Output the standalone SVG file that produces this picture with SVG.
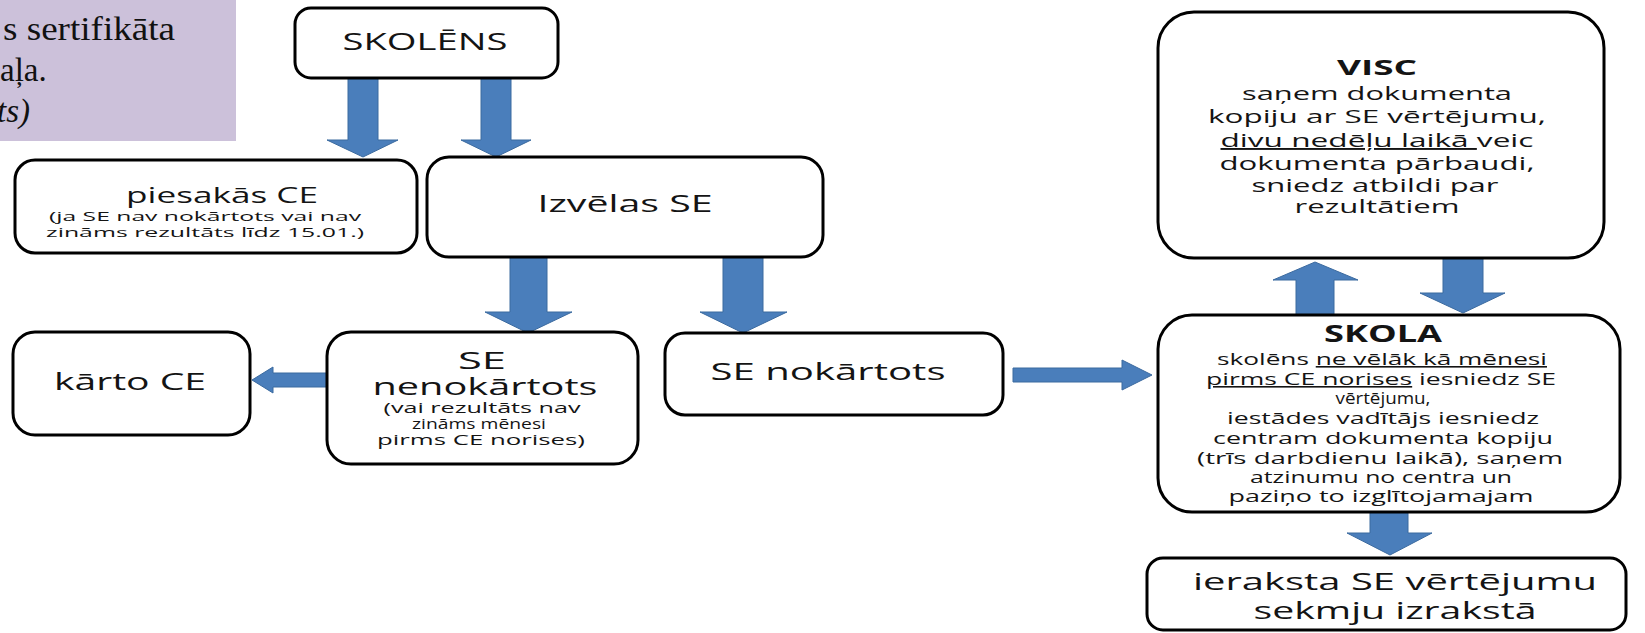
<svg xmlns="http://www.w3.org/2000/svg" width="1645" height="633" viewBox="0 0 1645 633">
<style>
.box{fill:#fff;stroke:#000;stroke-width:3}
.arr{fill:#4A7EBB;stroke:#3B6A9F;stroke-width:1}
.t{font-family:"Open Sans","DejaVu Sans",sans-serif;fill:#141414;text-anchor:middle}
.b{font-weight:bold}
.u{text-decoration:underline}
.serif{font-family:"Liberation Serif","Times New Roman",serif;fill:#111;font-size:33px}
</style>
<rect x="0" y="0" width="236" height="141" fill="#CCC1DA"/>
<text class="serif" x="3" y="40" textLength="172" lengthAdjust="spacingAndGlyphs">s sertifikāta</text>
<text class="serif" x="0" y="81">aļa.</text>
<text class="serif" x="-3" y="122" font-style="italic">ts)</text>

<g id="connectors">
<path class="arr" d="M348,78 H378 V140 H398 L363,157 L327,140 H348 Z"/>
<path class="arr" d="M481,78 H511 V140 H531 L496,157 L461,140 H481 Z"/>
<path class="arr" d="M510,257 H547 V312 H572 L528,333 L485,312 H510 Z"/>
<path class="arr" d="M723,257 H763 V312 H787 L743,333 L700,312 H723 Z"/>
<path class="arr" d="M327,373 H273 V367 L252,380 L273,393 V387 H327 Z"/>
<path class="arr" d="M1013,368 H1122 V360 L1152,375 L1122,390 V382 H1013 Z"/>
<path class="arr" d="M1296,315 V280 H1273 L1315,262 L1358,280 H1334 V315 Z"/>
<path class="arr" d="M1443,258 H1483 V293 H1505 L1463,313 L1420,293 H1443 Z"/>
<path class="arr" d="M1370,512 H1408 V533 H1432 L1390,555 L1347,533 H1370 Z"/>
</g>

<g id="skolens">
<rect class="box" x="295" y="8" width="263" height="70" rx="16"/>
<text class="t" x="425" y="50" font-size="24" textLength="165" lengthAdjust="spacingAndGlyphs">SKOLĒNS</text>
</g>

<g id="piesakas">
<rect class="box" x="15" y="160" width="402" height="93" rx="20"/>
<text class="t" x="222" y="203" font-size="22" textLength="192" lengthAdjust="spacingAndGlyphs">piesakās CE</text>
<text class="t" x="205" y="221" font-size="13.5" textLength="312" lengthAdjust="spacingAndGlyphs">(ja SE nav nokārtots vai nav</text>
<text class="t" x="205" y="237" font-size="13.5" textLength="318" lengthAdjust="spacingAndGlyphs">zināms rezultāts līdz 15.01.)</text>
</g>

<g id="izvelas">
<rect class="box" x="427" y="157" width="396" height="100" rx="22"/>
<text class="t" x="625" y="212" font-size="24" textLength="175" lengthAdjust="spacingAndGlyphs">Izvēlas SE</text>
</g>

<g id="karto">
<rect class="box" x="13" y="332" width="237" height="103" rx="22"/>
<text class="t" x="130" y="390" font-size="24" textLength="152" lengthAdjust="spacingAndGlyphs">kārto CE</text>
</g>

<g id="nenokartots">
<rect class="box" x="327" y="332" width="311" height="132" rx="24"/>
<text class="t" x="482" y="369" font-size="24" textLength="48" lengthAdjust="spacingAndGlyphs">SE</text>
<text class="t" x="485" y="395" font-size="24" textLength="225" lengthAdjust="spacingAndGlyphs">nenokārtots</text>
<text class="t" x="482" y="413" font-size="14" textLength="197" lengthAdjust="spacingAndGlyphs">(vai rezultāts nav</text>
<text class="t" x="479" y="429" font-size="14" textLength="134" lengthAdjust="spacingAndGlyphs">zināms mēnesi</text>
<text class="t" x="481" y="445" font-size="14" textLength="208" lengthAdjust="spacingAndGlyphs">pirms CE norises)</text>
</g>

<g id="nokartots">
<rect class="box" x="665" y="333" width="338" height="82" rx="20"/>
<text class="t" x="828" y="380" font-size="24" textLength="235" lengthAdjust="spacingAndGlyphs">SE nokārtots</text>
</g>

<g id="visc">
<rect class="box" x="1158" y="12" width="446" height="246" rx="36"/>
<text class="t b" x="1377" y="75" font-size="22" textLength="80" lengthAdjust="spacingAndGlyphs">VISC</text>
<text class="t" x="1377" y="100" font-size="19" textLength="270" lengthAdjust="spacingAndGlyphs">saņem dokumenta</text>
<text class="t" x="1377" y="123" font-size="19" textLength="338" lengthAdjust="spacingAndGlyphs">kopiju ar SE vērtējumu,</text>
<text class="t" x="1377" y="147" font-size="19" textLength="313" lengthAdjust="spacingAndGlyphs"><tspan class="u">divu nedēļu laikā </tspan>veic</text>
<text class="t" x="1377" y="170" font-size="19" textLength="315" lengthAdjust="spacingAndGlyphs">dokumenta pārbaudi,</text>
<text class="t" x="1375" y="192" font-size="19" textLength="247" lengthAdjust="spacingAndGlyphs">sniedz atbildi par</text>
<text class="t" x="1377" y="213" font-size="19" textLength="165" lengthAdjust="spacingAndGlyphs">rezultātiem</text>
</g>

<g id="skola">
<rect class="box" x="1158" y="315" width="462" height="197" rx="34"/>
<text class="t b" x="1383" y="342" font-size="23" textLength="118" lengthAdjust="spacingAndGlyphs">SKOLA</text>
<text class="t" x="1382" y="365" font-size="16" textLength="330" lengthAdjust="spacingAndGlyphs">skolēns <tspan class="u">ne vēlāk kā mēnesi</tspan></text>
<text class="t" x="1381" y="385" font-size="16" textLength="350" lengthAdjust="spacingAndGlyphs"><tspan class="u">pirms CE norises</tspan> iesniedz SE</text>
<text class="t" x="1383" y="404" font-size="16" textLength="95" lengthAdjust="spacingAndGlyphs">vērtējumu,</text>
<text class="t" x="1383" y="424" font-size="16" textLength="312" lengthAdjust="spacingAndGlyphs">iestādes vadītājs iesniedz</text>
<text class="t" x="1383" y="444" font-size="16" textLength="340" lengthAdjust="spacingAndGlyphs">centram dokumenta kopiju</text>
<text class="t" x="1380" y="464" font-size="16" textLength="366" lengthAdjust="spacingAndGlyphs">(trīs darbdienu laikā), saņem</text>
<text class="t" x="1381" y="483" font-size="16" textLength="262" lengthAdjust="spacingAndGlyphs">atzinumu no centra un</text>
<text class="t" x="1381" y="502" font-size="16" textLength="305" lengthAdjust="spacingAndGlyphs">paziņo to izglītojamajam</text>
</g>

<g id="ieraksta">
<rect class="box" x="1147" y="558" width="479" height="72" rx="16"/>
<text class="t" x="1395" y="590" font-size="24" textLength="404" lengthAdjust="spacingAndGlyphs">ieraksta SE vērtējumu</text>
<text class="t" x="1395" y="619" font-size="24" textLength="283" lengthAdjust="spacingAndGlyphs">sekmju izrakstā</text>
</g>
</svg>
